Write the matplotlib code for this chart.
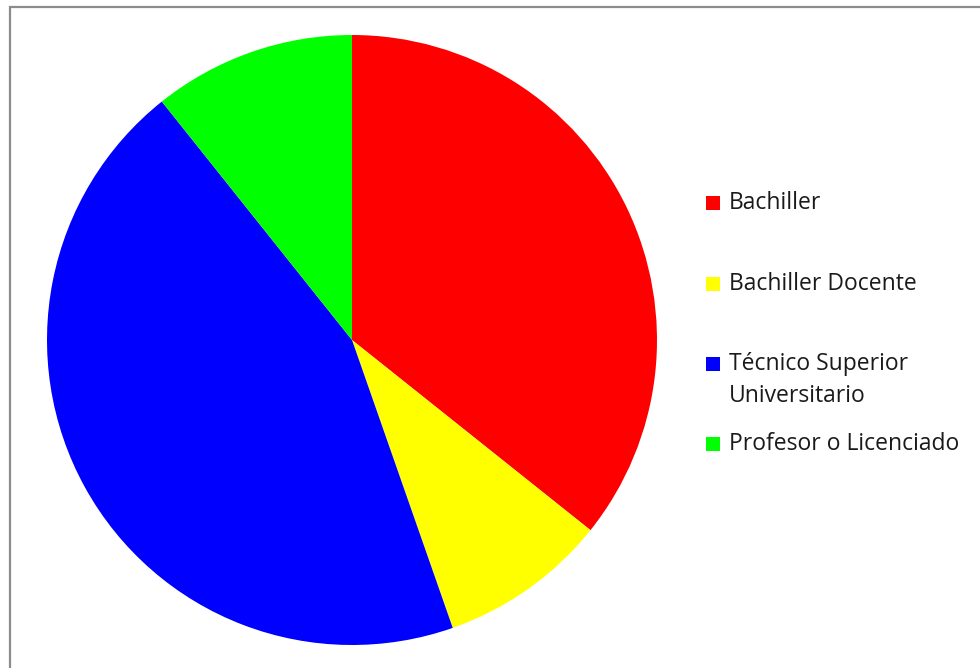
import matplotlib
matplotlib.use("Agg")
import matplotlib.pyplot as plt
from matplotlib.patches import Rectangle

categories = ["Bachiller", "Bachiller Docente", "Técnico Superior\nUniversitario", "Profesor o Licenciado"]
values = [20, 5, 25, 6]
colors = ["#FF0000", "#FFFF00", "#0000FF", "#00FF00"]

W, H = 980, 668
fig = plt.figure(figsize=(W / 100, H / 100), dpi=100)
fig.patch.set_facecolor("white")

cx, cy, r = 352, 340, 305
ax = fig.add_axes([(cx - r) / W, (H - cy - r) / H, 2 * r / W, 2 * r / H])
ax.pie(values, colors=colors, startangle=90, counterclock=False,
       wedgeprops=dict(linewidth=0), radius=1)
ax.set_xlim(-1, 1)
ax.set_ylim(-1, 1)
ax.set_aspect("equal")
ax.axis("off")

# border (top and left visible)
border = Rectangle((10 / W, -0.1), 1.2, (H - 7) / H + 0.1, transform=fig.transFigure,
                   fill=False, edgecolor="#8c8c8c", linewidth=1.6)
fig.patches.append(border)

# legend: text block centres and marker centres (marker sits on the first line)
ys = [203, 284, 380, 444]
marker_ys = [203, 284, 364, 444]
for cat, col, y, my in zip(categories, colors, ys, marker_ys):
    fig.patches.append(Rectangle((706 / W, (H - my - 7) / H), 14 / W, 14 / H,
                                 transform=fig.transFigure, facecolor=col, edgecolor="none"))
    fig.text(729 / W, (H - y) / H, cat, fontsize=16.5, family="Open Sans",
             color="#1a1a1a", va="center", ha="left", linespacing=1.5)

fig.savefig("out.png", dpi=100, facecolor="white")
